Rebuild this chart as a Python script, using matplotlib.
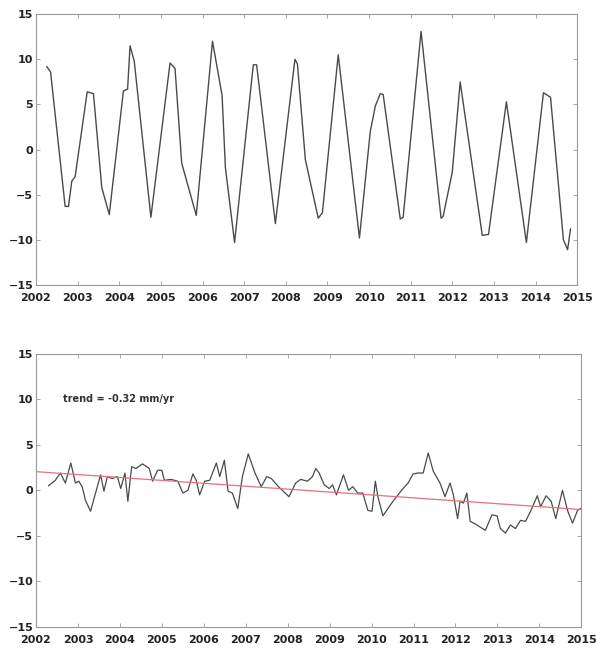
import matplotlib
matplotlib.use("Agg")
import matplotlib.pyplot as plt

# -----------------------------------------------------
# Data
# -----------------------------------------------------

# seasonal signal, top panel
top_years = [
    2002.26, 2002.35, 2002.70, 2002.78, 2002.86, 2002.94, 2003.23, 2003.38,
    2003.58, 2003.76, 2004.10, 2004.20, 2004.26, 2004.36, 2004.76, 2005.22,
    2005.34, 2005.50, 2005.85, 2006.24, 2006.47, 2006.55, 2006.77, 2007.22,
    2007.30, 2007.75, 2008.22, 2008.28, 2008.47, 2008.78, 2008.88, 2009.26,
    2009.77, 2010.03, 2010.15, 2010.27, 2010.34, 2010.75, 2010.82, 2011.25,
    2011.73, 2011.78, 2012.00, 2012.19, 2012.72, 2012.87, 2013.30, 2013.78,
    2014.19, 2014.36, 2014.67, 2014.77, 2014.84,
]
top_values = [
    9.2, 8.6, -6.3, -6.3, -3.5, -3.0, 6.4, 6.2,
    -4.2, -7.2, 6.5, 6.7, 11.5, 9.8, -7.5, 9.6,
    9.0, -1.5, -7.3, 12.0, 6.0, -2.0, -10.3, 9.4,
    9.4, -8.2, 10.0, 9.5, -1.1, -7.6, -7.0, 10.5,
    -9.8, 2.0, 4.8, 6.2, 6.1, -7.7, -7.5, 13.1,
    -7.6, -7.4, -2.5, 7.5, -9.5, -9.4, 5.3, -10.3,
    6.3, 5.8, -10.0, -11.1, -8.8,
]

# residual signal, bottom panel
bot_years = [
    2002.30, 2002.46, 2002.58, 2002.70, 2002.83, 2002.94, 2003.02, 2003.10,
    2003.18, 2003.30, 2003.42, 2003.54, 2003.62, 2003.70, 2003.82, 2003.94,
    2004.02, 2004.12, 2004.19, 2004.28, 2004.38, 2004.54, 2004.70, 2004.78,
    2004.90, 2005.00, 2005.06, 2005.22, 2005.38, 2005.50, 2005.62, 2005.74,
    2005.82, 2005.90, 2006.02, 2006.14, 2006.30, 2006.38, 2006.49, 2006.58,
    2006.68, 2006.81, 2006.92, 2007.06, 2007.22, 2007.37, 2007.50, 2007.61,
    2007.78, 2008.03, 2008.19, 2008.31, 2008.47, 2008.59, 2008.67, 2008.75,
    2008.87, 2008.99, 2009.07, 2009.16, 2009.33, 2009.45, 2009.55, 2009.67,
    2009.79, 2009.91, 2010.01, 2010.09, 2010.15, 2010.27, 2010.39, 2010.51,
    2010.63, 2010.75, 2010.87, 2010.99, 2011.11, 2011.23, 2011.35, 2011.47,
    2011.63, 2011.75, 2011.87, 2011.95, 2012.05, 2012.11, 2012.19, 2012.27,
    2012.35, 2012.51, 2012.71, 2012.87, 2012.99, 2013.07, 2013.19, 2013.31,
    2013.43, 2013.55, 2013.67, 2013.79, 2013.95, 2014.03, 2014.16, 2014.28,
    2014.39, 2014.55, 2014.67, 2014.79, 2014.91, 2014.98,
]
bot_values = [
    0.5, 1.1, 1.9, 0.8, 3.0, 0.8, 1.0, 0.4,
    -1.1, -2.3, -0.3, 1.7, -0.1, 1.5, 1.3, 1.5,
    0.2, 1.9, -1.2, 2.6, 2.4, 2.9, 2.4, 1.0,
    2.2, 2.2, 1.1, 1.2, 1.0, -0.3, 0.0, 1.8,
    1.1, -0.5, 1.0, 1.1, 3.0, 1.5, 3.3, -0.1,
    -0.3, -2.0, 1.5, 4.0, 1.9, 0.4, 1.5, 1.3,
    0.4, -0.7, 0.8, 1.2, 1.0, 1.5, 2.4, 1.9,
    0.6, 0.2, 0.6, -0.5, 1.7, 0.0, 0.4, -0.3,
    -0.3, -2.2, -2.3, 1.0, -0.7, -2.8, -2.0, -1.2,
    -0.5, 0.2, 0.8, 1.8, 1.9, 1.9, 4.1, 2.1,
    0.8, -0.7, 0.8, -0.5, -3.1, -1.2, -1.4, -0.3,
    -3.4, -3.8, -4.4, -2.7, -2.8, -4.2, -4.7, -3.8,
    -4.2, -3.3, -3.4, -2.3, -0.6, -1.8, -0.6, -1.2,
    -3.1, 0.0, -2.2, -3.6, -2.2, -2.0,
]

trend_years = [2002, 2015]
trend_values = [2.05, -2.11]
trend_label = "trend = -0.32 mm/yr"

year_ticks = list(range(2002, 2016))
value_ticks = [-15, -10, -5, 0, 5, 10, 15]

# -----------------------------------------------------
# Figure
# -----------------------------------------------------

fig = plt.figure(figsize=(5.96, 6.49), dpi=100)

ax_top = fig.add_axes([0.0604, 0.561, 0.908, 0.417])
ax_bot = fig.add_axes([0.0604, 0.034, 0.915, 0.421])

ax_top.plot(top_years, top_values, color="#4a4a4a", lw=1.0)

ax_bot.plot(bot_years, bot_values, color="#4a4a4a", lw=0.9)
ax_bot.plot(trend_years, trend_values, color="#e8707a", lw=0.9)
ax_bot.text(2002.65, 10, trend_label, fontsize=7, fontweight="bold",
            color="#333333", va="center", ha="left")

for ax in (ax_top, ax_bot):
    ax.set_xlim(2002, 2015)
    ax.set_ylim(-15, 15)
    ax.set_xticks(year_ticks)
    ax.set_yticks(value_ticks)
    ax.tick_params(direction="in", length=3, width=0.6, color="#999999",
                   top=True, right=True, labelsize=8, labelcolor="#222222")
    ax.tick_params(axis="x", pad=6)
    ax.tick_params(axis="y", pad=2)
    for label in ax.get_xticklabels() + ax.get_yticklabels():
        label.set_fontweight("bold")
    for spine in ax.spines.values():
        spine.set_color("#999999")
        spine.set_linewidth(0.8)

plt.savefig("out.png", dpi=100)
plt.close()
